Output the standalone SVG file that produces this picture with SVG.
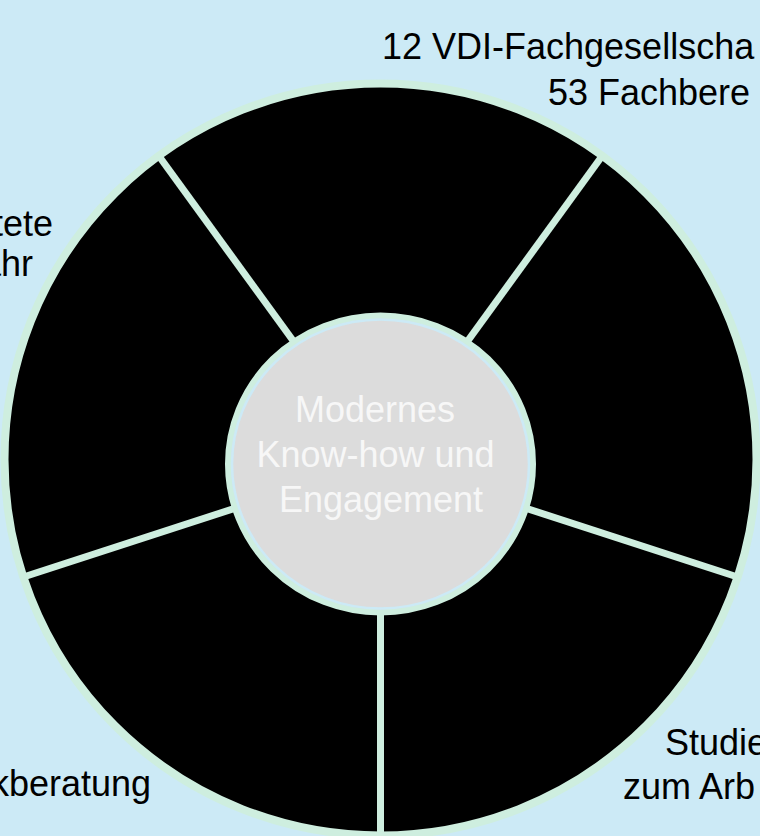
<svg xmlns="http://www.w3.org/2000/svg" width="760" height="836" viewBox="0 0 760 836">
  <style>
    .lbl { font-family: "Liberation Sans", Arial, sans-serif; font-size: 36px; fill: #000000; }
    .ctr { font-family: "Liberation Sans", Arial, sans-serif; font-size: 36px; fill: #f7f7f7; text-anchor: middle; }
    .spoke { stroke: #ceeedf; stroke-width: 7; stroke-linecap: butt; }
  </style>
  <rect x="0" y="0" width="760" height="836" fill="#cceaf6"/>
  <g id="ring">
    <circle cx="380.5" cy="459.5" r="376" fill="#000000" stroke="#ceeedf" stroke-width="8"/>
  </g>
  <g id="connectors">
    <line class="spoke" x1="380.5" y1="461" x2="380.5" y2="838"/>
    <line class="spoke" x1="380.5" y1="461" x2="21.9" y2="577.5"/>
    <line class="spoke" x1="380.5" y1="461" x2="158.9" y2="156"/>
    <line class="spoke" x1="380.5" y1="461" x2="602.1" y2="156"/>
    <line class="spoke" x1="380.5" y1="461" x2="739.1" y2="577.5"/>
  </g>
  <g id="center">
    <ellipse cx="380.5" cy="464" rx="152.5" ry="148.5" fill="#dcdcdc" stroke="#ceeedf" stroke-width="6"/>
    <ellipse cx="380.5" cy="464" rx="148.5" ry="144.5" fill="none" stroke="#cceaf6" stroke-width="2.5"/>
    <text class="ctr" x="375" y="422">Modernes</text>
    <text class="ctr" x="375.5" y="467">Know-how und</text>
    <text class="ctr" x="381" y="512">Engagement</text>
  </g>
  <g id="label-top-right">
    <text class="lbl" x="382" y="59">12 VDI-Fachgesellscha</text>
    <text class="lbl" x="548" y="105">53 Fachbere</text>
  </g>
  <g id="label-left">
    <text class="lbl" x="53" y="236" text-anchor="end">tete</text>
    <text class="lbl" x="33" y="276" text-anchor="end">ahr</text>
  </g>
  <g id="label-bottom-left">
    <text class="lbl" x="151" y="796" text-anchor="end">kberatung</text>
  </g>
  <g id="label-bottom-right">
    <text class="lbl" x="665" y="755">Studie</text>
    <text class="lbl" x="623" y="799">zum Arb</text>
  </g>
</svg>
